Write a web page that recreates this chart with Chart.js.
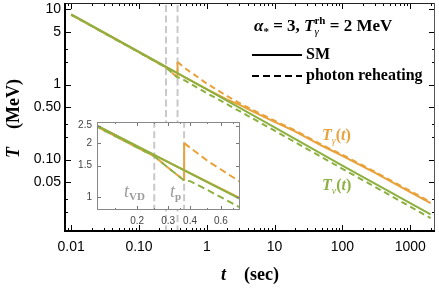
<!DOCTYPE html>
<html><head><meta charset="utf-8">
<script src="https://cdn.jsdelivr.net/npm/chart.js@4"></script>
<style>
html,body{margin:0;padding:0;background:#fff;}
#wrap{position:relative;width:439px;height:290px;overflow:hidden;}
canvas{position:absolute;left:0;top:0;}
</style></head><body>
<div id="wrap"><canvas id="main" width="439" height="290"></canvas><canvas id="inset" width="439" height="290"></canvas></div>
<script>
// ---------------- data ----------------
// SM neutrino temperature T_nu(t)
const tNuSM = [0.01, 0.1, 1, 10, 100, 1000, 2000];
const TNuSM = [8.6, 2.72, 0.86, 0.268, 0.0835, 0.0263, 0.0186];
// SM photon temperature T_gamma(t)
const tGamSM = [0.01, 0.1, 0.3, 0.5, 1, 2, 3, 5, 10, 20, 50, 100, 300, 1000, 2000];
const TGamSM = [8.6, 2.72, 1.57, 1.22, 0.87, 0.63, 0.54, 0.43, 0.318, 0.238, 0.153, 0.112, 0.067, 0.037, 0.0264];
// photon reheating: neutrino temperature
const tNuRH = [0.01, 0.1, 0.2, 0.25, 0.3, 0.37, 0.4, 0.5, 0.75, 1, 2, 3, 10, 30, 100, 300, 1000, 2000];
const TNuRH = [8.47, 2.68, 1.89, 1.69, 1.46, 1.24, 1.23, 1.10, 0.89, 0.77, 0.545, 0.445, 0.243, 0.139, 0.0755, 0.0435, 0.0236, 0.0166];
// photon reheating: photon temperature (before jump, jump, after jump)
const tGamRHpre = [0.01, 0.1, 0.2, 0.25, 0.3, 0.37];
const TGamRHpre = [8.47, 2.68, 1.89, 1.69, 1.46, 1.24];
const tJump = [0.37, 0.37];
const TJump = [1.24, 2.0];
const tGamRHpost = [0.37, 0.5, 0.75, 1, 2, 3, 5, 10, 20, 50, 100, 300, 1000, 2000];
const TGamRHpost = [2.0, 1.6, 1.24, 1.03, 0.70, 0.57, 0.45, 0.33, 0.245, 0.157, 0.116, 0.069, 0.0382, 0.0272];
// marked times
const tVD = 0.25;
const tP = 0.37;

// tick labels
const xTicks = [0.01, 0.1, 1, 10, 100, 1000];
const xTickLabels = ['0.01', '0.10', '1', '10', '100', '1000'];
const yTicks = [0.05, 0.1, 0.5, 1, 5, 10];
const yTickLabels = ['0.05', '0.10', '0.50', '1', '5', '10'];
const yMinorTicks = [0.02, 0.03, 0.2, 0.3, 2, 3];
const inXTicks = [0.2, 0.3, 0.4, 0.6];
const inXTickLabels = ['0.2', '0.3', '0.4', '0.6'];
const inXMinor = [0.15, 0.25, 0.35, 0.5, 0.7];
const inYTicks = [1, 1.5, 2, 2.5];
const inYTickLabels = ['1', '1.5', '2', '2.5'];

// axis ranges
const X_MIN = 0.0081, X_MAX = 2320, Y_MIN = 0.0112, Y_MAX = 12.2;
const IX_MIN = 0.118, IX_MAX = 0.77, IY_MIN = 0.85, IY_MAX = 2.62;

// ---------------- styles ----------------
const ORANGE = '#E9A23B', GREEN = '#8DB040', GRAY = '#C9C9C9';
const SERIF = '"Liberation Serif", "Times New Roman", serif';
const SANS = '"Liberation Sans", Arial, sans-serif';

const pts = (ts, Ts) => ts.map((t, i) => ({x: t, y: Ts[i]}));

function makeDatasets(dash, yLo, yHi) {
  const base = {pointRadius: 0, borderWidth: 2, fill: false, tension: 0};
  return [
    Object.assign({}, base, {data: [{x: tVD, y: yLo}, {x: tVD, y: yHi}], borderColor: GRAY, borderDash: [7, 3.5], order: 9}),
    Object.assign({}, base, {data: [{x: tP, y: yLo}, {x: tP, y: yHi}], borderColor: GRAY, borderDash: [7, 3.5], order: 9}),
    Object.assign({}, base, {data: pts(tGamSM, TGamSM), borderColor: ORANGE, order: 8}),
    Object.assign({}, base, {data: pts(tGamRHpre, TGamRHpre), borderColor: ORANGE, borderDash: dash, borderDashOffset: dash[0] * 0.6, order: 7}),
    Object.assign({}, base, {data: pts(tJump, TJump), borderColor: ORANGE, order: 6}),
    Object.assign({}, base, {data: pts(tGamRHpost, TGamRHpost), borderColor: ORANGE, borderDash: dash, order: 5}),
    Object.assign({}, base, {data: pts(tNuSM, TNuSM), borderColor: GREEN, order: 4}),
    Object.assign({}, base, {data: pts(tNuRH, TNuRH), borderColor: GREEN, borderDash: dash, order: 3})
  ];
}

function line(ctx, x1, y1, x2, y2) { ctx.beginPath(); ctx.moveTo(x1, y1); ctx.lineTo(x2, y2); ctx.stroke(); }

// draw runs of text left to right; returns end x
function runs(ctx, x, y, parts) {
  ctx.textBaseline = 'alphabetic'; ctx.textAlign = 'left';
  for (const p of parts) {
    ctx.font = p.f;
    if (p.stack) {
      let w = 0;
      for (const s of p.stack) { ctx.font = s.f; ctx.fillText(s.t, x, y + (s.dy || 0)); w = Math.max(w, ctx.measureText(s.t).width); }
      x += w;
    } else {
      ctx.fillText(p.t, x, y + (p.dy || 0));
      x += ctx.measureText(p.t).width;
    }
  }
  return x;
}

const mainDeco = {
  id: 'mainDeco',
  beforeDraw(c) { const ctx = c.ctx; ctx.save(); ctx.fillStyle = '#fff'; ctx.fillRect(0, 0, c.width, c.height); ctx.restore(); },
  afterDraw(c) {
    const ctx = c.ctx, a = c.chartArea, sx = c.scales.x, sy = c.scales.y;
    ctx.save();
    ctx.strokeStyle = '#000'; ctx.lineWidth = 1; ctx.setLineDash([]);
    for (let e = -3; e <= 3; e++) for (let m = 1; m <= 9; m++) {
      const v = m * Math.pow(10, e); if (v < X_MIN || v > X_MAX) continue;
      const px = Math.round(sx.getPixelForValue(v)) + 0.5, L = m === 1 ? 6 : 3;
      line(ctx, px, a.bottom, px, a.bottom - L); line(ctx, px, a.top, px, a.top + L);
    }
    for (const v of yTicks) { const py = Math.round(sy.getPixelForValue(v)) + 0.5; line(ctx, a.left, py, a.left + 6, py); line(ctx, a.right, py, a.right - 6, py); }
    for (const v of yMinorTicks) { const py = Math.round(sy.getPixelForValue(v)) + 0.5; line(ctx, a.left, py, a.left + 3, py); line(ctx, a.right, py, a.right - 3, py); }
    // frame
    ctx.lineWidth = 1; ctx.strokeStyle = '#222';
    line(ctx, a.left, a.top + 0.5, a.right, a.top + 0.5);
    ctx.strokeStyle = '#555';
    line(ctx, a.right - 0.5, a.top, a.right - 0.5, a.bottom);
    ctx.strokeStyle = '#000'; ctx.lineWidth = 2;
    line(ctx, a.left, a.top, a.left, a.bottom + 1);
    line(ctx, a.left - 1, a.bottom, a.right, a.bottom);

    // axis titles
    ctx.fillStyle = '#000'; ctx.textBaseline = 'middle';
    ctx.font = 'italic bold 18px ' + SERIF; ctx.textAlign = 'left'; ctx.fillText('t', 221, 275);
    ctx.font = 'bold 18px ' + SERIF; ctx.textAlign = 'right'; ctx.fillText('(sec)', 279, 275);
    ctx.save(); ctx.translate(14, 118.5); ctx.rotate(-Math.PI / 2);
    ctx.font = 'italic bold 18px ' + SERIF; ctx.textAlign = 'left'; ctx.fillText('T', -39.5, 0);
    ctx.font = 'bold 18px ' + SERIF; ctx.textAlign = 'right'; ctx.fillText('(MeV)', 39.5, 0);
    ctx.restore();

    // legend
    ctx.fillStyle = '#000';
    runs(ctx, 254, 31, [
      {t: 'α', f: 'italic bold 17px ' + SERIF},
      {t: '*', f: 'bold 11px ' + SERIF, dy: 4},
      {t: ' = 3, ', f: 'bold 17px ' + SERIF},
      {t: 'T', f: 'italic bold 17px ' + SERIF},
      {stack: [{t: 'γ', f: 'italic 11px ' + SERIF, dy: 4}, {t: 'rh', f: 'bold 11px ' + SERIF, dy: -7}]},
      {t: ' = 2 MeV', f: 'bold 17px ' + SERIF}
    ]);
    ctx.strokeStyle = '#000'; ctx.lineWidth = 2;
    line(ctx, 252, 55, 302, 55);
    ctx.setLineDash([7, 4]); line(ctx, 252, 76, 302, 76); ctx.setLineDash([]);
    ctx.font = 'bold 16px ' + SERIF; ctx.textAlign = 'left'; ctx.textBaseline = 'middle';
    ctx.fillText('SM', 306, 55);
    ctx.fillText('photon reheating', 306, 76);

    // curve labels
    ctx.fillStyle = ORANGE;
    runs(ctx, 322, 140, [
      {t: 'T', f: 'italic bold 16px ' + SERIF},
      {t: 'γ', f: 'italic 10px ' + SERIF, dy: 4},
      {t: '(', f: 'bold 16px ' + SERIF},
      {t: 't', f: 'italic bold 16px ' + SERIF},
      {t: ')', f: 'bold 16px ' + SERIF}
    ]);
    ctx.fillStyle = GREEN;
    runs(ctx, 322, 190, [
      {t: 'T', f: 'italic bold 16px ' + SERIF},
      {t: 'ν', f: 'italic 10px ' + SERIF, dy: 4},
      {t: '(', f: 'bold 16px ' + SERIF},
      {t: 't', f: 'italic bold 16px ' + SERIF},
      {t: ')', f: 'bold 16px ' + SERIF}
    ]);
    ctx.restore();
  }
};

const insetDeco = {
  id: 'insetDeco',
  beforeDraw(c) { const ctx = c.ctx, a = c.chartArea; ctx.save(); ctx.fillStyle = '#fff'; ctx.fillRect(a.left, a.top, a.right - a.left, a.bottom - a.top); ctx.restore(); },
  afterDraw(c) {
    const ctx = c.ctx, a = c.chartArea, sx = c.scales.x, sy = c.scales.y;
    ctx.save();
    ctx.strokeStyle = '#777'; ctx.lineWidth = 1; ctx.setLineDash([]);
    for (const v of inXTicks) { const px = Math.round(sx.getPixelForValue(v)) + 0.5; line(ctx, px, a.bottom, px, a.bottom - 4); line(ctx, px, a.top, px, a.top + 4); }
    for (const v of inXMinor) { const px = Math.round(sx.getPixelForValue(v)) + 0.5; line(ctx, px, a.bottom, px, a.bottom - 2); line(ctx, px, a.top, px, a.top + 2); }
    for (const v of inYTicks) { const py = Math.round(sy.getPixelForValue(v)) + 0.5; line(ctx, a.left, py, a.left + 4, py); line(ctx, a.right, py, a.right - 4, py); }
    ctx.strokeStyle = '#888';
    ctx.strokeRect(Math.round(a.left) + 0.5, Math.round(a.top) + 0.5, Math.round(a.right - a.left) - 1, Math.round(a.bottom - a.top) - 1);
    ctx.fillStyle = '#9c9c9c';
    runs(ctx, 124, 197, [
      {t: 't', f: 'italic 18px ' + SERIF},
      {t: 'VD', f: 'bold 11px ' + SERIF, dy: 3}
    ]);
    runs(ctx, 170, 197, [
      {t: 't', f: 'italic 18px ' + SERIF},
      {t: 'p', f: 'bold 11px ' + SERIF, dy: 3}
    ]);
    ctx.restore();
  }
};

const tickFont = {family: SANS, size: 14};

new Chart(document.getElementById('main'), {
  type: 'line',
  data: {datasets: makeDatasets([6, 4], Y_MIN / 10, Y_MAX * 10)},
  options: {
    responsive: false, animation: false, devicePixelRatio: 1,
    layout: {padding: {left: 0, right: 4, top: 3, bottom: 0}, autoPadding: false},
    plugins: {legend: {display: false}, tooltip: {enabled: false}},
    scales: {
      x: {type: 'logarithmic', min: X_MIN, max: X_MAX,
        grid: {display: false, drawTicks: false}, border: {display: false},
        afterBuildTicks: s => { s.ticks = xTicks.map(v => ({value: v})); },
        afterFit: s => { s.height = 59; s.paddingLeft = 0; s.paddingRight = 0; },
        ticks: {autoSkip: false, maxRotation: 0, minRotation: 0, padding: 8, font: tickFont, color: '#000', callback: (v, i) => xTickLabels[i]}},
      y: {type: 'logarithmic', min: Y_MIN, max: Y_MAX,
        grid: {display: false, drawTicks: false}, border: {display: false},
        afterBuildTicks: s => { s.ticks = yTicks.map(v => ({value: v})); },
        afterFit: s => { s.width = 65; s.paddingTop = 0; s.paddingBottom = 0; },
        ticks: {autoSkip: false, padding: 4, font: tickFont, color: '#000', callback: (v, i) => yTickLabels[i]}}
    }
  },
  plugins: [mainDeco]
});

const inTickFont = {family: SANS, size: 10};
new Chart(document.getElementById('inset'), {
  type: 'line',
  data: {datasets: makeDatasets([7, 4], IY_MIN / 2, IY_MAX * 2)},
  options: {
    responsive: false, animation: false, devicePixelRatio: 1,
    layout: {padding: {left: 0, right: 199, top: 122, bottom: 0}, autoPadding: false},
    plugins: {legend: {display: false}, tooltip: {enabled: false}},
    scales: {
      x: {type: 'logarithmic', min: IX_MIN, max: IX_MAX,
        grid: {display: false, drawTicks: false}, border: {display: false},
        afterBuildTicks: s => { s.ticks = inXTicks.map(v => ({value: v})); },
        afterFit: s => { s.height = 80; s.paddingLeft = 0; s.paddingRight = 0; },
        ticks: {autoSkip: false, maxRotation: 0, minRotation: 0, padding: 5, font: inTickFont, color: '#444', callback: (v, i) => inXTickLabels[i]}},
      y: {type: 'logarithmic', min: IY_MIN, max: IY_MAX,
        grid: {display: false, drawTicks: false}, border: {display: false},
        afterBuildTicks: s => { s.ticks = inYTicks.map(v => ({value: v})); },
        afterFit: s => { s.width = 97; s.paddingTop = 0; s.paddingBottom = 0; },
        ticks: {autoSkip: false, padding: 5, font: inTickFont, color: '#444', callback: (v, i) => inYTickLabels[i]}}
    }
  },
  plugins: [insetDeco]
});
</script>
</body></html>
